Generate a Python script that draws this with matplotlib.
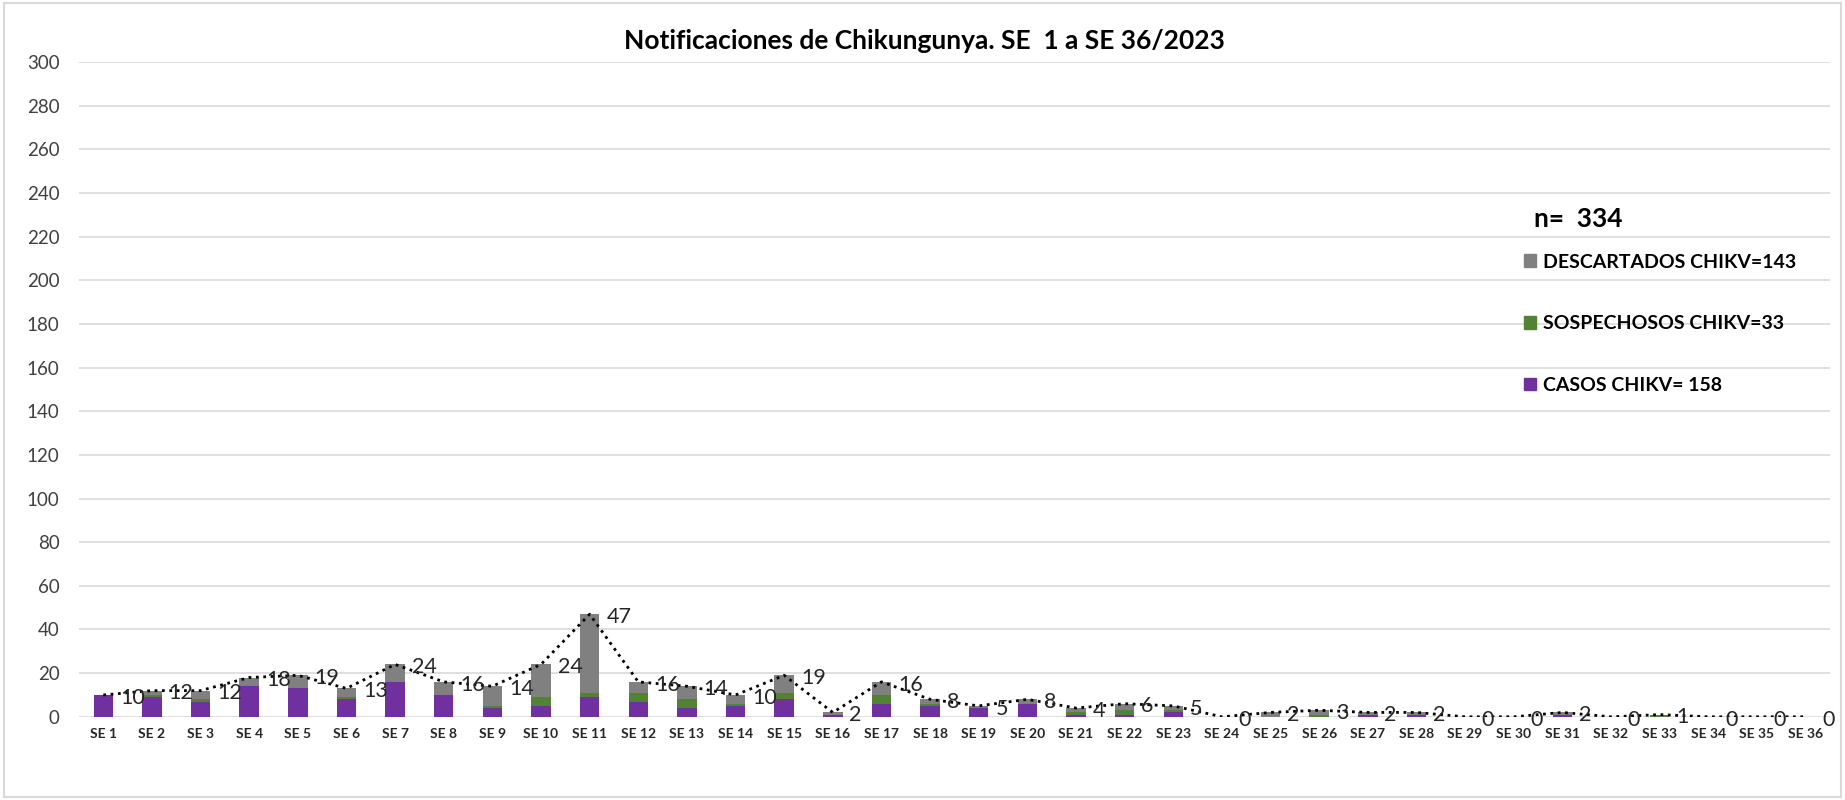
import numpy as np
import matplotlib
matplotlib.use("Agg")
from matplotlib import pyplot as plt
from matplotlib.patches import Patch, Rectangle

plt.rcParams['font.family'] = ['Lato', 'DejaVu Sans']

# semanas epidemiologicas
weeks = ['SE %d' % i for i in range(1, 37)]

casos = [10, 9, 7, 14, 13, 8, 16, 10, 4, 5, 9, 7, 4, 5, 8, 1, 6, 5, 4, 6, 1, 1, 2, 0,
         0, 0, 1, 1, 0, 0, 1, 0, 0, 0, 0, 0]
sospechosos = [0, 1, 1, 0, 0, 1, 0, 0, 1, 4, 2, 4, 4, 1, 3, 0, 4, 1, 0, 0, 1, 2, 1, 0,
               0, 1, 0, 0, 0, 0, 0, 0, 1, 0, 0, 0]
descartados = [0, 2, 4, 4, 6, 4, 8, 6, 9, 15, 36, 5, 6, 4, 8, 1, 6, 2, 1, 2, 2, 3, 2, 0,
               2, 2, 1, 1, 0, 0, 1, 0, 0, 0, 0, 0]
# total notificaciones (serie de linea)
total = [10, 12, 12, 18, 19, 13, 24, 16, 14, 24, 47, 16, 14, 10, 19, 2, 16, 8, 5, 8, 4, 6, 5, 0,
         2, 3, 2, 2, 0, 0, 2, 0, 1, 0, 0, 0]

legend_labels = ['DESCARTADOS CHIKV=143', 'SOSPECHOSOS CHIKV=33', 'CASOS CHIKV= 158']
col_casos = '#7030a0'
col_sosp = '#538135'
col_desc = '#808080'

fig = plt.figure(figsize=(18.45, 8), dpi=100)
ax = fig.add_axes([0.0428, 0.104, 0.949, 0.8185])

pos = np.arange(len(weeks))
casos = np.array(casos)
sospechosos = np.array(sospechosos)
descartados = np.array(descartados)

bw = 0.4
ax.bar(pos, casos, bw, color=col_casos, zorder=2)
ax.bar(pos, sospechosos, bw, bottom=casos, color=col_sosp, zorder=2)
ax.bar(pos, descartados, bw, bottom=casos + sospechosos, color=col_desc, zorder=2)

ax.plot(pos, total, color='black', linestyle=':', linewidth=2, zorder=3)
for x, v in zip(pos, total):
    ax.annotate(str(v), (x, v), xytext=(12, -2), textcoords='offset points',
                ha='left', va='center', fontsize=15.5, color='#262626', zorder=4)

ax.set_xlim(-0.5, len(weeks) - 0.5)
ax.set_ylim(0, 300)
ax.set_yticks(np.arange(0, 301, 20))
ax.set_xticks(pos)
ax.set_xticklabels(weeks, fontsize=10, fontweight='bold', color='#262626')
ax.tick_params(axis='y', labelsize=13.5, colors='#404040', length=0, pad=14)
ax.tick_params(axis='x', length=0, pad=8)
ax.grid(axis='y', color='#d9d9d9', linewidth=1.2, zorder=0)
ax.set_axisbelow(True)
for s in ax.spines.values():
    s.set_visible(False)

fig.text(0.501, 0.949, 'Notificaciones de Chikungunya. SE  1 a SE 36/2023',
         ha='center', va='center', fontsize=19, fontweight='bold', color='black')

fig.text(0.8315, 0.726, 'n=  334', ha='left', va='center', fontsize=19, fontweight='bold')
handles = [Patch(color=col_desc), Patch(color=col_sosp), Patch(color=col_casos)]
ax.legend(handles, legend_labels, loc='upper left', bbox_to_anchor=(0.8165, 0.705),
          bbox_transform=fig.transFigure, frameon=False,
          prop={'weight': 'bold', 'size': 14}, handlelength=0.6, handleheight=0.6,
          handletextpad=0.4, labelspacing=2.3)

fig.patches.append(Rectangle((0.002, 0.004), 0.996, 0.992, transform=fig.transFigure,
                             fill=False, edgecolor='#d9d9d9', linewidth=1.5))

plt.savefig('out.png', dpi=100)
